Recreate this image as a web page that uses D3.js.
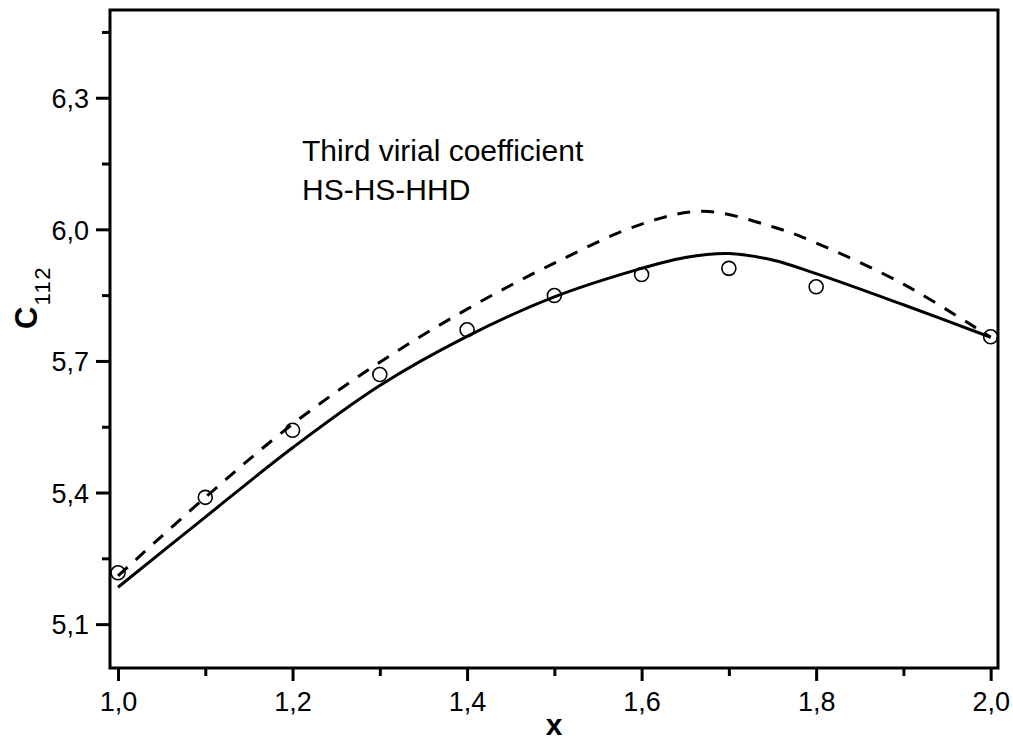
<!DOCTYPE html>
<meta charset="utf-8">
<style>
    body { margin: 0; background: #fff; }
    svg text { font-family: Arial, "Liberation Sans", sans-serif; fill: #000; }
</style>
<svg id="chart" width="1013" height="740"></svg>
<script src="https://cdn.jsdelivr.net/npm/d3@7/dist/d3.min.js"></script>
<script>
    // data
    var solidX = [1.0, 1.1, 1.2, 1.3, 1.4, 1.5, 1.6, 1.65, 1.7, 1.75, 1.8, 1.9, 2.0];
    var solidY = [5.184, 5.344, 5.502, 5.644, 5.756, 5.846, 5.911, 5.936, 5.945, 5.930, 5.899, 5.828, 5.754];

    var dashX = [1.0, 1.1, 1.2, 1.3, 1.4, 1.5, 1.6, 1.67, 1.75, 1.8, 1.9, 2.0];
    var dashY = [5.210, 5.389, 5.556, 5.697, 5.818, 5.923, 6.012, 6.041, 6.006, 5.969, 5.875, 5.754];

    var pointX = [1.0, 1.1, 1.2, 1.3, 1.4, 1.5, 1.6, 1.7, 1.8, 2.0];
    var pointY = [5.217, 5.389, 5.542, 5.669, 5.771, 5.849, 5.897, 5.911, 5.869, 5.755];

    var xMajor = [1.0, 1.2, 1.4, 1.6, 1.8, 2.0];
    var xMinor = [1.1, 1.3, 1.5, 1.7, 1.9];
    var yMajor = [5.1, 5.4, 5.7, 6.0, 6.3];
    var yMinor = [5.25, 5.55, 5.85, 6.15, 6.45];

    var plotLeft = 110, plotRight = 998, plotTop = 10, plotBottom = 668;

    var svg = d3.select("#chart");

    var x = d3.scaleLinear().domain([0.9908, 2.0084]).range([plotLeft, plotRight]);
    var y = d3.scaleLinear().domain([5.0, 6.5]).range([plotBottom, plotTop]);

    var fmt = d3.formatLocale({ decimal: ",", thousands: ".", grouping: [3], currency: ["", ""] }).format(".1f");

    function zip(xs, ys) { return xs.map((v, i) => [v, ys[i]]); }

    var line = d3.line()
        .x(d => x(d[0]))
        .y(d => y(d[1]))
        .curve(d3.curveCatmullRom.alpha(0.5));

    svg.append("path")
        .datum(zip(solidX, solidY))
        .attr("d", line)
        .attr("fill", "none")
        .attr("stroke", "#000")
        .attr("stroke-width", 3);

    svg.append("path")
        .datum(zip(dashX, dashY))
        .attr("d", line)
        .attr("fill", "none")
        .attr("stroke", "#000")
        .attr("stroke-width", 3)
        .attr("stroke-dasharray", "13,11");

    svg.selectAll("circle.pt")
        .data(zip(pointX, pointY))
        .enter().append("circle")
        .attr("class", "pt")
        .attr("cx", d => x(d[0]))
        .attr("cy", d => y(d[1]))
        .attr("r", 7)
        .attr("fill", "none")
        .attr("stroke", "#000")
        .attr("stroke-width", 1.6);

    // axes
    var xAxis = d3.axisBottom(x).tickValues(xMajor).tickSize(13).tickPadding(11).tickFormat(fmt);
    var xAxisMinor = d3.axisBottom(x).tickValues(xMinor).tickSize(8).tickFormat("");
    var yAxis = d3.axisLeft(y).tickValues(yMajor).tickSize(14).tickPadding(7).tickFormat(fmt);
    var yAxisMinor = d3.axisLeft(y).tickValues(yMinor).tickSize(8).tickFormat("");

    function styleAxis(g) {
        g.select(".domain").remove();
        g.selectAll(".tick line").attr("stroke", "#000").attr("stroke-width", 3);
        g.selectAll(".tick text")
            .attr("font-size", 27)
            .attr("font-family", "Arial, 'Liberation Sans', sans-serif")
            .attr("fill", "#000");
    }

    svg.append("g").attr("transform", "translate(0," + plotBottom + ")").call(xAxis).call(styleAxis);
    svg.append("g").attr("transform", "translate(0," + plotBottom + ")").call(xAxisMinor).call(styleAxis);
    svg.append("g").attr("transform", "translate(" + plotLeft + ",0)").call(yAxis).call(styleAxis)
        .selectAll(".tick text").attr("dy", "0.36em");
    svg.append("g").attr("transform", "translate(" + plotLeft + ",0)").call(yAxisMinor).call(styleAxis);

    // frame
    svg.append("rect")
        .attr("x", plotLeft)
        .attr("y", plotTop)
        .attr("width", plotRight - plotLeft)
        .attr("height", plotBottom - plotTop)
        .attr("fill", "none")
        .attr("stroke", "#000")
        .attr("stroke-width", 3);

    // axis titles
    svg.append("text")
        .attr("x", (plotLeft + plotRight) / 2)
        .attr("y", 735)
        .attr("text-anchor", "middle")
        .attr("font-size", 30)
        .attr("font-weight", "bold")
        .text("x");

    var yl = svg.append("text")
        .attr("transform", "translate(37,329) rotate(-90)")
        .attr("text-anchor", "start")
        .attr("font-size", 31)
        .attr("font-weight", "bold");
    yl.append("tspan").text("C");
    yl.append("tspan").attr("font-size", 22).attr("font-weight", "normal")
        .attr("dy", 13).attr("dx", 1).attr("letter-spacing", 1.5).text("112");

    // annotation
    svg.append("text").attr("x", 302).attr("y", 161).attr("font-size", 30).text("Third virial coefficient");
    svg.append("text").attr("x", 302).attr("y", 200).attr("font-size", 30).text("HS-HS-HHD");
</script>
